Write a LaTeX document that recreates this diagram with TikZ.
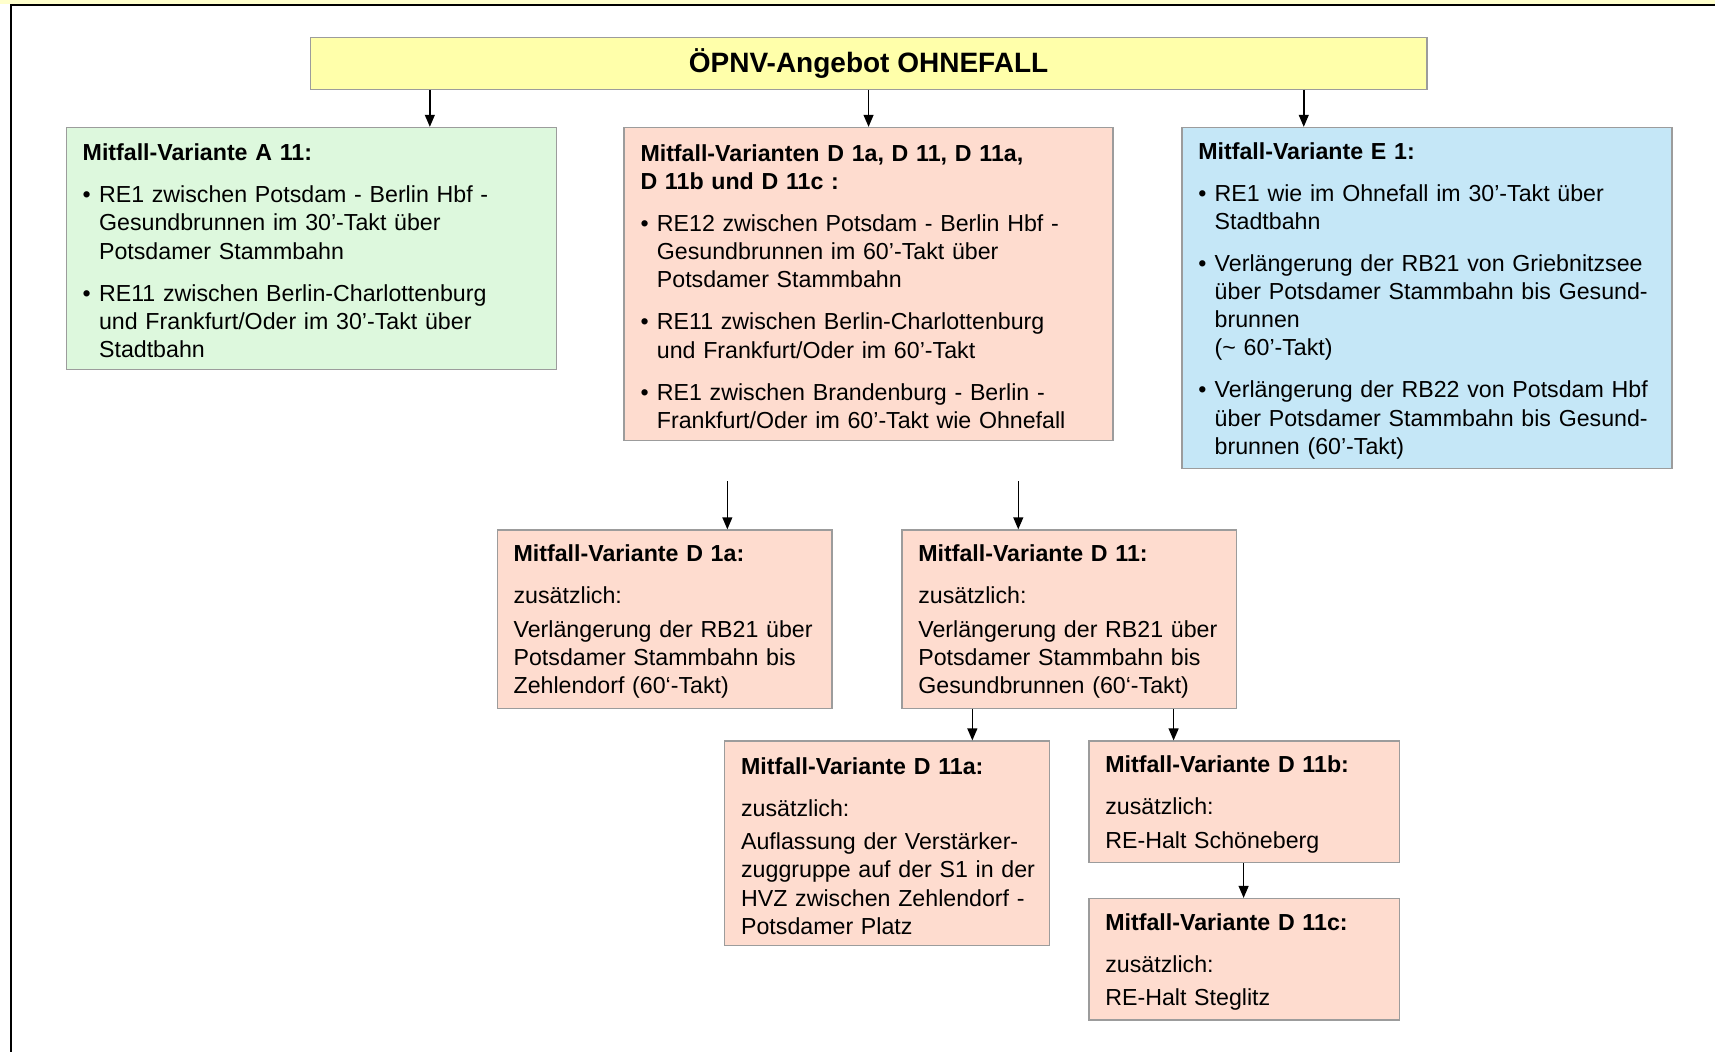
\documentclass[tikz,border=0pt]{standalone}
\usepackage{fontspec}
\setmainfont{Liberation Sans}
\usepackage{xcolor}
\usetikzlibrary{arrows.meta}

\definecolor{leiste}{RGB}{255,255,204}
\definecolor{gelb}{RGB}{255,255,170}
\definecolor{gruen}{RGB}{221,248,221}
\definecolor{lachs}{RGB}{254,220,207}
\definecolor{blau}{RGB}{197,231,247}
\definecolor{rahmen}{RGB}{156,156,156}

\newcommand{\kopf}[1]{\noindent\rule{0pt}{10pt}\textbf{#1}}
\newcommand{\punkt}[1]{\par\vspace{6.3pt}\noindent\hangindent=7.5pt\hangafter=1\makebox[7.5pt][l]{\textbullet}#1\par}

\begin{document}
\begin{tikzpicture}[x=0.5pt,y=-0.5pt,
    kasten/.style={draw=rahmen,line width=0.6pt,anchor=north west,inner xsep=7.5pt,inner ysep=0pt,
      align=left,font=\fontsize{10.6}{12.9}\selectfont},
    pfeil/.style={line width=0.7pt,-{Triangle[length=5.5pt,width=4.5pt]}}]
    \useasboundingbox (0,0) rectangle (1568,962);
    % frame
    \fill[leiste] (0,0) rectangle (1568,3.7);
    \draw[line width=1pt] (1568,4.6) -- (10,4.6) -- (10,962);

    \node[draw=rahmen,line width=0.6pt,fill=gelb,anchor=north west,minimum width=510.5pt,minimum height=23.5pt,
      inner sep=0pt,font=\bfseries\fontsize{12.8}{15}\selectfont] (ohne) at (283,34) {ÖPNV-Angebot OHNEFALL};

    \node[kasten,fill=gruen,minimum width=224pt,minimum height=110.5pt,text width=209pt] (a11) at (60,116) {%
      \kopf{Mitfall-Variante A 11:}
      \punkt{RE1 zwischen Potsdam - Berlin Hbf -\newline Gesundbrunnen im 30’-Takt über\newline Potsdamer Stammbahn}
      \punkt{RE11 zwischen Berlin-Charlottenburg\newline und Frankfurt/Oder im 30’-Takt über\newline Stadtbahn}};
    \node[kasten,fill=lachs,minimum width=223.5pt,minimum height=143pt,text width=208.5pt] (dall) at (570,116) {%
      \kopf{Mitfall-Varianten D 1a, D 11, D 11a,\newline D 11b und D 11c :}
      \punkt{RE12 zwischen Potsdam - Berlin Hbf -\newline Gesundbrunnen im 60’-Takt über\newline Potsdamer Stammbahn}
      \punkt{RE11 zwischen Berlin-Charlottenburg\newline und Frankfurt/Oder im 60’-Takt}
      \punkt{RE1 zwischen Brandenburg - Berlin -\newline Frankfurt/Oder im 60’-Takt wie Ohnefall}};
    \node[kasten,fill=blau,minimum width=224pt,minimum height=156pt,text width=209pt] (e1) at (1080,116) {%
      \kopf{Mitfall-Variante E 1:}
      \punkt{RE1 wie im Ohnefall im 30’-Takt über\newline Stadtbahn}
      \punkt{Verlängerung der RB21 von Griebnitzsee\newline über Potsdamer Stammbahn bis Gesund-\newline brunnen\newline ({\textasciitilde} 60’-Takt)}
      \punkt{Verlängerung der RB22 von Potsdam Hbf\newline über Potsdamer Stammbahn bis Gesund-\newline brunnen (60’-Takt)}};

    \node[kasten,fill=lachs,minimum width=153pt,minimum height=81.5pt,text width=138pt] (d1a) at (454,484) {%
      \kopf{Mitfall-Variante D 1a:}\par\vspace{6.4pt}
      zusätzlich:\par\vspace{2.4pt}
      \mbox{Verlängerung der RB21 über}\newline Potsdamer Stammbahn bis\newline Zehlendorf (60‘-Takt)};
    \node[kasten,fill=lachs,minimum width=153pt,minimum height=81.5pt,text width=138pt] (d11) at (824,484) {%
      \kopf{Mitfall-Variante D 11:}\par\vspace{6.4pt}
      zusätzlich:\par\vspace{2.4pt}
      \mbox{Verlängerung der RB21 über}\newline Potsdamer Stammbahn bis\newline Gesundbrunnen (60‘-Takt)};
    \node[kasten,fill=lachs,minimum width=148.5pt,minimum height=93.5pt,text width=133.5pt] (d11a) at (662,677) {%
      \kopf{Mitfall-Variante D 11a:}\par\vspace{6.4pt}
      zusätzlich:\par\vspace{2.4pt}
      \mbox{Auflassung der Verstärker-}\newline \mbox{zuggruppe auf der S1 in der}\newline \mbox{HVZ zwischen Zehlendorf -}\newline Potsdamer Platz};
    \node[kasten,fill=lachs,minimum width=142pt,minimum height=55.5pt,text width=127pt] (d11b) at (995,677) {%
      \kopf{Mitfall-Variante D 11b:}\par\vspace{6.4pt}
      zusätzlich:\par\vspace{2.4pt}
      RE-Halt Schöneberg};
    \node[kasten,fill=lachs,minimum width=142pt,minimum height=55.5pt,text width=127pt] (d11c) at (995,821) {%
      \kopf{Mitfall-Variante D 11c:}\par\vspace{6.4pt}
      zusätzlich:\par\vspace{2.4pt}
      RE-Halt Steglitz};

    % arrows
    \coordinate (xa) at (393,0);
    \coordinate (xe) at (1192,0);
    \coordinate (fa) at (665,440);
    \coordinate (fb) at (931,440);
    \coordinate (xc) at (889,0);
    \coordinate (xd) at (1073,0);
    \coordinate (xf) at (1137,0);
    \draw[pfeil] (ohne.south -| xa) -- (a11.north -| xa);
    \draw[pfeil] (ohne.south) -- (dall.north);
    \draw[pfeil] (ohne.south -| xe) -- (e1.north -| xe);
    \draw[pfeil] (fa) -- (d1a.north -| fa);
    \draw[pfeil] (fb) -- (d11.north -| fb);
    \draw[pfeil] (d11.south -| xc) -- (d11a.north -| xc);
    \draw[pfeil] (d11.south -| xd) -- (d11b.north -| xd);
    \draw[pfeil] (d11b.south -| xf) -- (d11c.north -| xf);
\end{tikzpicture}
\end{document}
